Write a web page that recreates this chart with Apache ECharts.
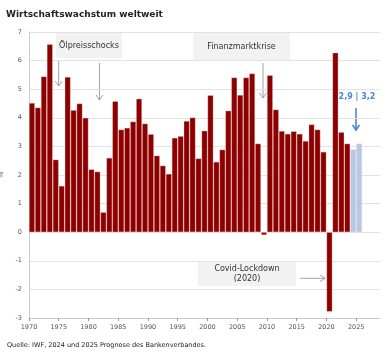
<!DOCTYPE html>
<html><head><meta charset="utf-8">
<script src="https://cdn.jsdelivr.net/npm/echarts@6/dist/echarts.min.js"></script>
<style>html,body{margin:0;padding:0;background:#fff}#c{width:391px;height:356px}</style>
</head><body><div id="c"></div>
<script>
const years = [1970,1971,1972,1973,1974,1975,1976,1977,1978,1979,1980,1981,1982,1983,1984,1985,1986,1987,1988,1989,1990,1991,1992,1993,1994,1995,1996,1997,1998,1999,2000,2001,2002,2003,2004,2005,2006,2007,2008,2009,2010,2011,2012,2013,2014,2015,2016,2017,2018,2019,2020,2021,2022,2023,2024,2025];
const growth = [4.52,4.36,5.45,6.57,2.54,1.62,5.43,4.27,4.50,4.00,2.20,2.12,0.70,2.60,4.58,3.59,3.65,3.87,4.67,3.80,3.43,2.68,2.33,2.04,3.30,3.36,3.89,4.01,2.58,3.55,4.79,2.46,2.89,4.25,5.41,4.80,5.41,5.55,3.10,-0.10,5.49,4.29,3.54,3.44,3.53,3.44,3.19,3.77,3.59,2.81,-2.78,6.28,3.50,3.10,2.90,3.10];
const forecastYears = [2024,2025];
const yearTicks = [1970,1975,1980,1985,1990,1995,2000,2005,2010,2015,2020,2025];
const forecastLabel = '2,9 | 3,2';

const chart = echarts.init(document.getElementById('c'), null, {renderer:'canvas'});
const FONT = 'DejaVu Sans';
const data = years.map((y,i)=>({
  value:[y+0.5, growth[i]],
  itemStyle:{color: forecastYears.includes(y) ? '#b4c9e6' : '#8b0000'}
}));
const grey = '#8a8a8a';
function vArrow(x,y1,y2,color,w){
  return [
    {type:'line',shape:{x1:x,y1:y1,x2:x,y2:y2},style:{stroke:color,lineWidth:w}},
    {type:'polyline',shape:{points:[[x-3.5,y2-5],[x,y2],[x+3.5,y2-5]]},style:{stroke:color,lineWidth:w,fill:null}}
  ];
}
chart.setOption({
  animation:false,
  textStyle:{fontFamily:FONT},
  title:{text:'Wirtschaftswachstum weltweit',left:1,top:5,textStyle:{fontFamily:FONT,fontSize:9,fontWeight:'bold',color:'#222'}},
  grid:{left:29,right:11,top:32,bottom:38,containLabel:false,outerBoundsMode:'none'},
  xAxis:{type:'value',min:1970,max:2029,interval:5,
    axisLine:{show:true,onZero:false,lineStyle:{color:'#ccc'}},
    axisTick:{show:true,customValues:yearTicks,length:3,lineStyle:{color:'#999'}},
    axisLabel:{customValues:yearTicks,fontSize:6.5,color:'#555',margin:6,fontFamily:FONT,formatter:v=>String(v)},
    splitLine:{show:false}},
  yAxis:{type:'value',min:-3,max:7,interval:1,name:'%',nameLocation:'middle',nameGap:20,
    nameTextStyle:{fontSize:7,color:'#555',fontFamily:FONT},
    axisLine:{show:true,lineStyle:{color:'#ccc'}},axisTick:{show:false},
    axisLabel:{fontSize:6.5,color:'#555',margin:7,fontFamily:FONT},
    splitLine:{lineStyle:{color:'#e2e2e2'}}},
  series:[{type:'bar',data:data,barWidth:5.9,itemStyle:{borderColor:'rgba(255,210,210,0.55)',borderWidth:0.6}}],
  graphic:[
    {type:'rect',shape:{x:56,y:33,width:66,height:25},style:{fill:'#f2f2f2'}},
    {type:'text',x:89,y:45.5,style:{text:'Ölpreisschocks',font:'8px "DejaVu Sans"',fill:'#333',align:'center',verticalAlign:'middle'}},
    ...vArrow(58.7,60,86,grey,0.8),
    ...vArrow(99.5,63,100,grey,0.8),
    {type:'rect',shape:{x:193,y:33,width:97,height:27},style:{fill:'#f2f2f2'}},
    {type:'text',x:241.5,y:47,style:{text:'Finanzmarktkrise',font:'8px "DejaVu Sans"',fill:'#333',align:'center',verticalAlign:'middle'}},
    ...vArrow(263,63,98,grey,0.8),
    {type:'rect',shape:{x:198,y:262,width:98,height:24},style:{fill:'#f2f2f2'}},
    {type:'text',x:247,y:274,style:{text:'Covid-Lockdown\n(2020)',font:'8px "DejaVu Sans"',lineHeight:10,fill:'#333',align:'center',verticalAlign:'middle'}},
    {type:'line',shape:{x1:300,y1:278.3,x2:325,y2:278.3},style:{stroke:grey,lineWidth:0.8}},
    {type:'polyline',shape:{points:[[320,275],[325,278.3],[320,281.6]]},style:{stroke:grey,lineWidth:0.8,fill:null}},
    {type:'text',x:357,y:97,style:{text:forecastLabel,font:'bold 8px "DejaVu Sans"',fill:'#4a86d0',align:'center',verticalAlign:'middle'}},
    ...vArrow(356,108,130,'#4a86d0',1.6),
    {type:'text',x:7,y:345,style:{text:'Quelle: IWF, 2024 und 2025 Prognose des Bankenverbandes.',font:'6.5px "DejaVu Sans"',fill:'#222',verticalAlign:'middle'}}
  ]
});
</script></body></html>
